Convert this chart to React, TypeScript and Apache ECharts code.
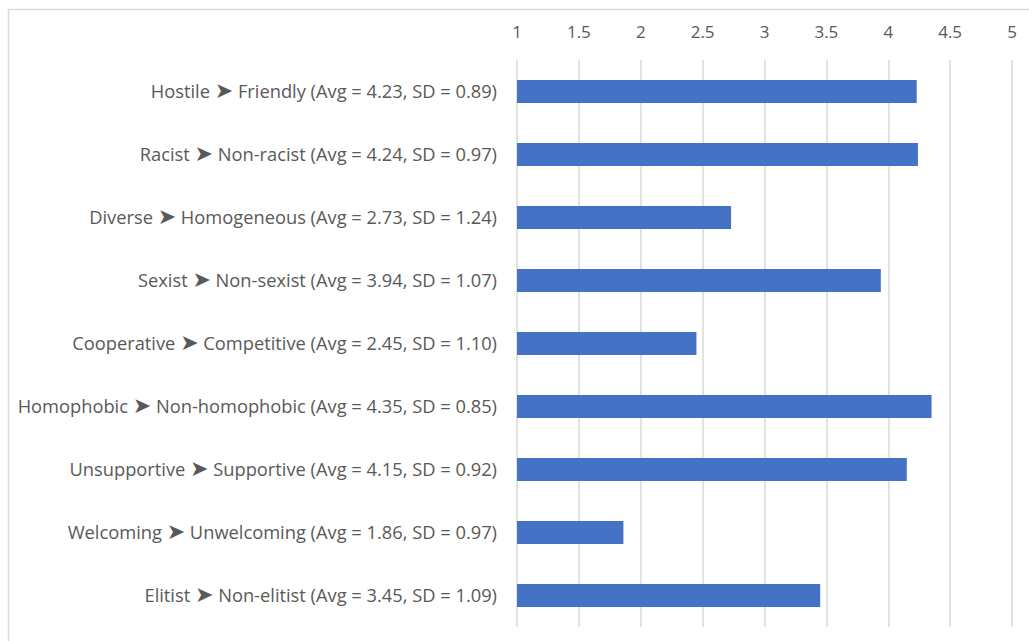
import React, { useEffect, useRef } from "react";
import * as echarts from "echarts";

// Semantic differential items, listed top to bottom
const categories: string[] = [
  "Hostile ➤ Friendly (Avg = 4.23, SD = 0.89)",
  "Racist ➤ Non-racist (Avg = 4.24, SD = 0.97)",
  "Diverse ➤ Homogeneous (Avg = 2.73, SD = 1.24)",
  "Sexist ➤ Non-sexist (Avg = 3.94, SD = 1.07)",
  "Cooperative ➤ Competitive (Avg = 2.45, SD = 1.10)",
  "Homophobic ➤ Non-homophobic (Avg = 4.35, SD = 0.85)",
  "Unsupportive ➤ Supportive (Avg = 4.15, SD = 0.92)",
  "Welcoming ➤ Unwelcoming (Avg = 1.86, SD = 0.97)",
  "Elitist ➤ Non-elitist (Avg = 3.45, SD = 1.09)",
];

const averages: number[] = [4.23, 4.24, 2.73, 3.94, 2.45, 4.35, 4.15, 1.86, 3.45];

const axisMin = 1;
const axisMax = 5;
const axisStep = 0.5;

const TEXT_COLOR = "#595959";
const FONT = "'Open Sans', Lato, sans-serif";

export default function App() {
  const ref = useRef<HTMLDivElement>(null);

  useEffect(() => {
    if (!ref.current) return;
    const chart = echarts.init(ref.current, undefined, { renderer: "svg" });
    chart.setOption({
      animation: false,
      backgroundColor: "#ffffff",
      graphic: [
        {
          type: "rect",
          shape: { x: 8.5, y: 9.5, width: 1040, height: 660 },
          style: { fill: "none", stroke: "#d9d9d9", lineWidth: 1.5 },
          silent: true,
        },
      ],
      grid: { left: 517, right: 17, top: 60, bottom: 14 },
      xAxis: {
        type: "value",
        position: "top",
        min: axisMin,
        max: axisMax,
        interval: axisStep,
        axisLine: { show: false },
        axisTick: { show: false },
        axisLabel: {
          color: TEXT_COLOR,
          fontFamily: FONT,
          fontSize: 17,
          margin: 20,
        },
        splitLine: { show: true, lineStyle: { color: "#d9d9d9", width: 1.5 } },
      },
      yAxis: {
        type: "category",
        inverse: true,
        data: categories,
        axisLine: { show: false },
        axisTick: { show: false },
        axisLabel: {
          color: TEXT_COLOR,
          fontFamily: FONT,
          fontSize: 18.3,
          lineHeight: 22,
          margin: 20,
          padding: [0, 0, 2, 0],
          formatter: (v: string) => v.replace("➤", "{arr|➤}"),
          rich: {
            arr: {
              color: TEXT_COLOR,
              fontFamily: "'DejaVu Sans', sans-serif",
              fontSize: 22,
              lineHeight: 22,
            },
          },
        },
      },
      series: [
        {
          type: "bar",
          data: averages,
          barWidth: 23,
          clip: true,
          itemStyle: { color: "#4472C4" },
        },
      ],
    });
    return () => chart.dispose();
  }, []);

  return (
    <div
      ref={ref}
      style={{ position: "absolute", left: 0, top: 0, width: 1029, height: 641 }}
    />
  );
}
